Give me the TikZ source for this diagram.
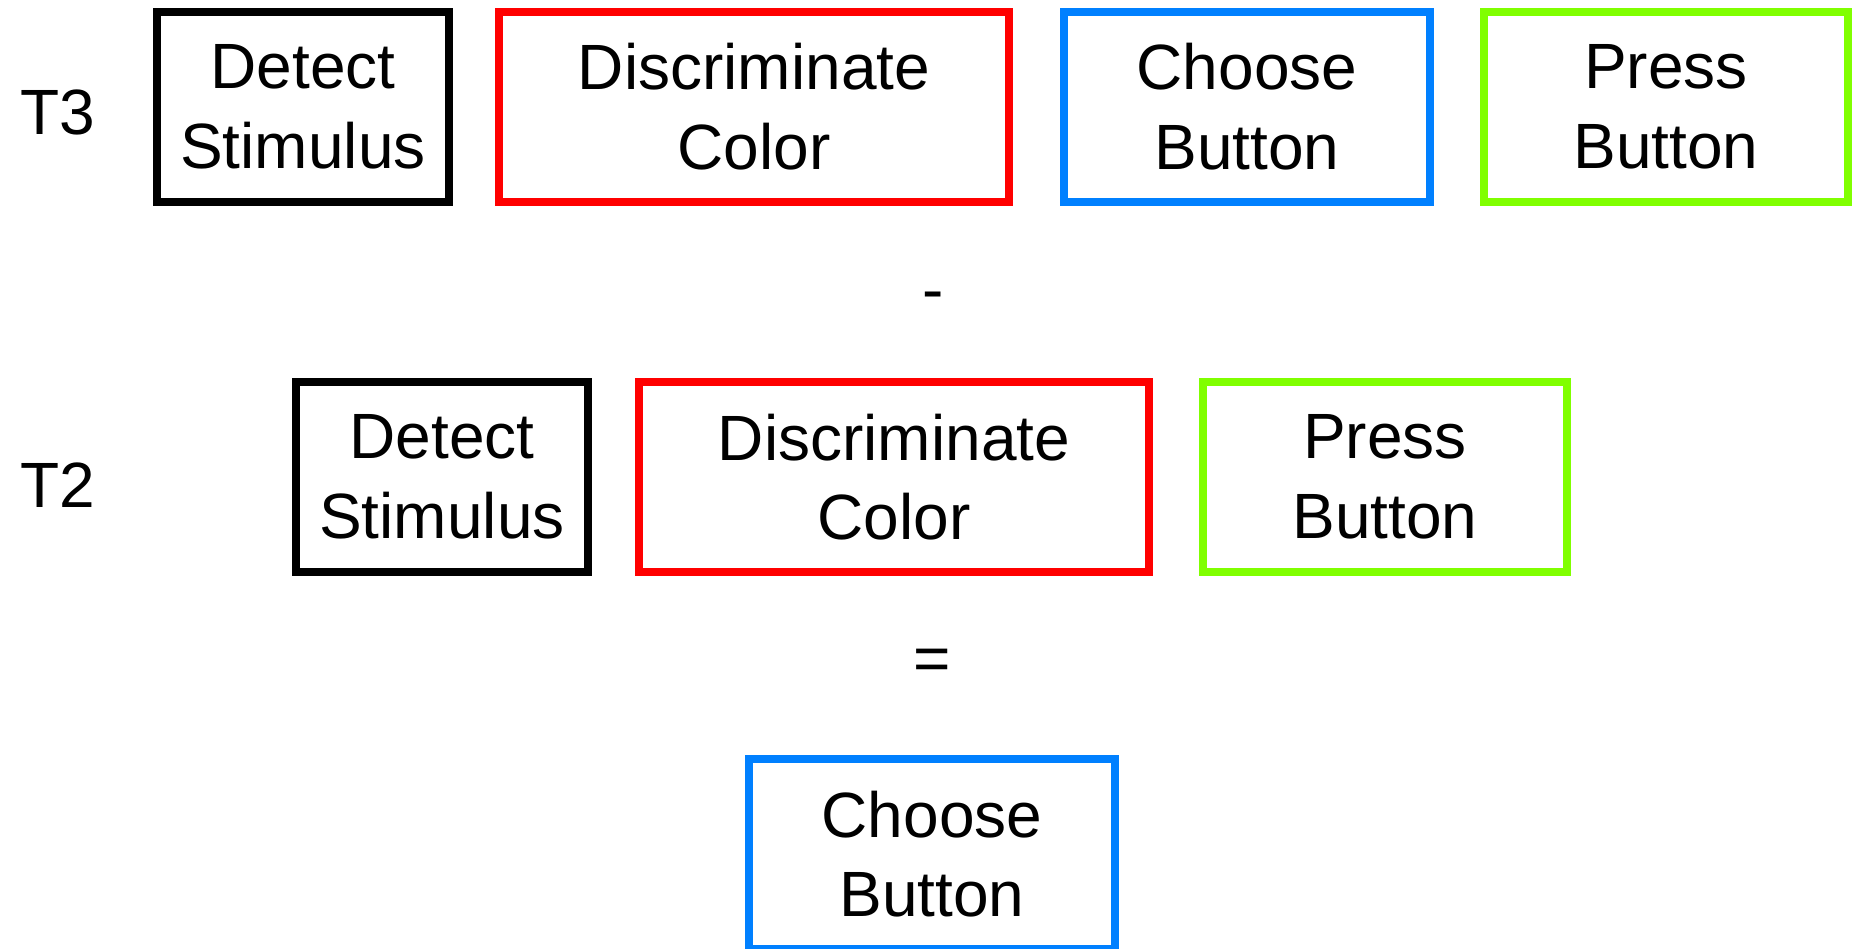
\documentclass[tikz,border=0pt]{standalone}
\usepackage{fontspec}
\setmainfont{Liberation Sans}
\definecolor{cred}{RGB}{255,0,0}
\definecolor{cblue}{RGB}{0,128,255}
\definecolor{cgreen}{RGB}{128,255,0}
\begin{document}
\begin{tikzpicture}[x=1pt,y=-1pt,
  bigfont/.style={font=\fontsize{64}{79.5}\selectfont},
  stage/.style={draw, line width=8pt, rectangle, inner sep=0pt, minimum height=190pt, align=center, bigfont,
    execute at begin node={\rule{0pt}{53pt}}},
  detect/.style={stage, draw=black, minimum width=292pt},
  discr/.style={stage, draw=cred, minimum width=510pt},
  choose/.style={stage, draw=cblue, minimum width=366pt},
  press/.style={stage, draw=cgreen, minimum width=364pt},
  lab/.style={inner sep=0pt, anchor=base west, bigfont},
  op/.style={inner sep=0pt, anchor=base, bigfont}]
\useasboundingbox (0,0) rectangle (1861,948);
% row T3
\node[lab] (t3) at (20,134) {T3};
\node[detect] (d1) at (303,106.7) {Detect\\Stimulus};
\node[discr] (c1) at (754,106.7) {Discriminate\\Color};
\node[choose] (b1) at (1247,106.7) {Choose\\Button};
\node[press] (p1) at (1666,106.7) {Press\\Button};
% minus
\node[op] (minus) at (933,311) {-};
% row T2
\node[lab] (t2) at (20,507) {T2};
\node[detect] (d2) at (442,477) {Detect\\Stimulus};
\node[discr] (c2) at (894,477) {Discriminate\\Color};
\node[press] (p2) at (1385,477) {Press\\Button};
% equals
\node[op] (eq) at (932.5,680) {=};
% result
\node[choose] (b3) at (932,854) {Choose\\Button};
\end{tikzpicture}
\end{document}
